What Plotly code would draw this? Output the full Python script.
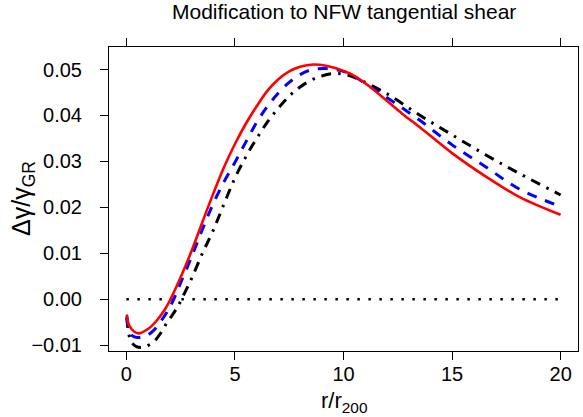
import plotly.graph_objects as go

# ---- data ----
red_x = [0.02, 0.12, 0.35, 0.58, 1.04, 1.42, 1.80, 2.03, 2.5, 3.0, 3.5, 4.0, 4.5, 5.0, 5.5, 6.0,
         6.5, 7.0, 7.5, 8.0, 8.6, 9.2, 10.0, 10.44, 11.2, 11.97, 12.7, 13.5, 15.03, 16.56, 18.09, 20.0]
red_y = [-0.0033, -0.0056, -0.0070, -0.0074, -0.0063, -0.0045, -0.0020, 0.0, 0.0048, 0.0105,
         0.0168, 0.0230, 0.0288, 0.0338, 0.0382, 0.0420, 0.0454, 0.0479, 0.0496, 0.0506, 0.0511,
         0.0508, 0.0497, 0.0488, 0.0463, 0.0433, 0.0404, 0.0375, 0.0317, 0.0267, 0.0223, 0.0184]

blue_x = [0.02, 0.12, 0.27, 0.5, 0.89, 1.27, 1.57, 1.88, 2.18, 2.5, 3.0, 3.5, 4.0, 4.5, 5.0,
          5.5, 6.0, 6.5, 7.0, 7.5, 8.0, 8.5, 9.2, 10.0, 10.44, 11.97, 13.5, 15.03, 16.56,
          18.09, 20.0]
blue_y = [-0.0037, -0.0067, -0.0079, -0.0083, -0.0080, -0.0067, -0.0049, -0.0027, 0.0, 0.0036,
          0.0092, 0.0152, 0.0208, 0.0256, 0.0298, 0.0342, 0.0385, 0.0420, 0.0449, 0.0472, 0.0489,
          0.0499, 0.0502, 0.0496, 0.0486, 0.0440, 0.0390, 0.0335, 0.0288, 0.0240, 0.0202]

black_x = [0.02, 0.1, 0.22, 0.46, 0.7, 0.92, 1.27, 1.57, 1.80, 2.03, 2.34, 2.6, 3.0, 3.5, 4.0,
           4.5, 5.0, 5.5, 6.0, 6.5, 7.0, 7.5, 8.0, 8.6, 9.0, 9.5, 10.0, 10.44, 11.97, 13.5,
           15.03, 16.56, 18.09, 20.0]
black_y = [-0.0040, -0.0072, -0.0092, -0.0103, -0.0105, -0.0102, -0.0092, -0.0074, -0.0056,
           -0.0040, -0.0018, 0.0006, 0.0045, 0.0100, 0.0150, 0.0208, 0.0264, 0.0310, 0.0350,
           0.0386, 0.0416, 0.0442, 0.0462, 0.0479, 0.0486, 0.0491, 0.0490, 0.0484, 0.0448,
           0.0401, 0.0357, 0.0314, 0.0274, 0.0227]

zero_x = [0, 20]
zero_y = [0, 0]

x_ticks = [0, 5, 10, 15, 20]
y_ticks = [-0.01, 0.0, 0.01, 0.02, 0.03, 0.04, 0.05]

FONT = "Liberation Sans, Arial, Helvetica, sans-serif"
X_RANGE = [-0.8, 20.8]

fig = go.Figure()
fig.add_trace(go.Scatter(x=zero_x, y=zero_y, mode="lines", hoverinfo="skip",
                         line=dict(color="black", width=2.5, dash="2.5px,8.5px")))
fig.add_trace(go.Scatter(x=black_x, y=black_y, mode="lines", line_shape="spline",
                         line=dict(color="black", width=3, dash="10px,7px,2.5px,7px")))
fig.add_trace(go.Scatter(x=blue_x, y=blue_y, mode="lines", line_shape="spline",
                         line=dict(color="#0000ff", width=3, dash="10px,9px")))
fig.add_trace(go.Scatter(x=red_x, y=red_y, mode="lines", line_shape="spline",
                         line=dict(color="#ff0000", width=2.6)))
# invisible trace on the top axis so its ticks are drawn
fig.add_trace(go.Scatter(x=zero_x, y=zero_y, xaxis="x2", mode="lines", hoverinfo="skip",
                         line=dict(color="rgba(0,0,0,0)", width=0)))

fig.update_layout(
    width=583, height=417,
    margin=dict(l=109, r=5, t=47, b=66),
    paper_bgcolor="white", plot_bgcolor="white",
    showlegend=False,
    font=dict(family=FONT, size=20, color="black"),
    xaxis=dict(range=X_RANGE, tickvals=x_ticks, ticktext=[str(v) for v in x_ticks],
               showgrid=False, zeroline=False, showline=True, linecolor="black", linewidth=1,
               mirror=True, ticks="outside", ticklen=8, tickwidth=1, tickcolor="black",
               ticklabelstandoff=-3, tickfont=dict(size=20, family=FONT)),
    xaxis2=dict(range=X_RANGE, tickvals=x_ticks, overlaying="x", side="top",
                showticklabels=False, showgrid=False, zeroline=False, showline=False,
                ticks="outside", ticklen=8, tickwidth=1, tickcolor="black"),
    yaxis=dict(range=[-0.01124, 0.0549], tickvals=y_ticks,
               ticktext=["\u22120.01", "0.00", "0.01", "0.02", "0.03", "0.04", "0.05"],
               showgrid=False, zeroline=False, showline=True, linecolor="black", linewidth=1,
               mirror=True, ticks="outside", ticklen=8, tickwidth=1, tickcolor="black",
               ticklabelstandoff=14, tickfont=dict(size=20, family=FONT)),
    annotations=[
        dict(text="Modification to NFW tangential shear", xref="paper", yref="paper",
             x=0.5, y=1, xanchor="center", yanchor="bottom", yshift=22, showarrow=False,
             font=dict(size=21, family=FONT)),
        dict(text="r/r<sub>200</sub>", xref="paper", yref="paper",
             x=0.5, y=0, xanchor="center", yanchor="top", yshift=-35, showarrow=False,
             font=dict(size=22, family=FONT)),
        dict(text="\u0394\u03b3/\u03b3<sub>GR</sub>", xref="paper", yref="paper",
             x=0, y=0.5, xanchor="center", yanchor="middle", xshift=-86, showarrow=False,
             textangle=-90, font=dict(size=25, family=FONT)),
    ],
)

fig.write_html("out.html", config={"displayModeBar": False},
               post_script="document.body.style.margin='0';document.body.style.overflow='hidden';")
